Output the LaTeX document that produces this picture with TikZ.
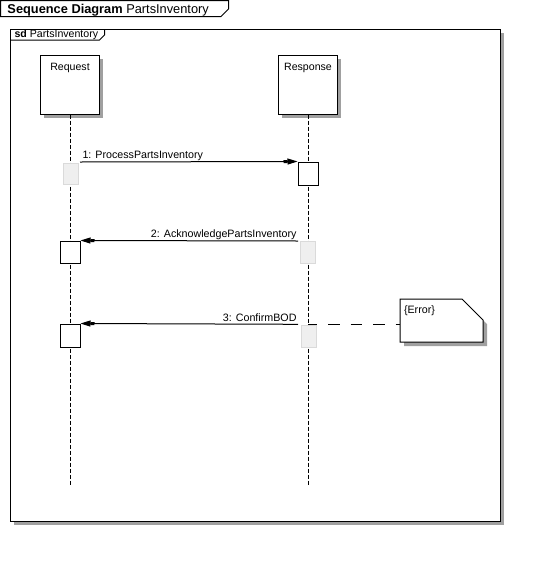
\documentclass[tikz,border=0pt]{standalone}
\usepackage{fontspec}
\setmainfont{Liberation Sans}
\usetikzlibrary{arrows.meta}
\definecolor{shadowgray}{HTML}{A0A0A0}
\definecolor{ghostfill}{HTML}{EFEFEF}
\definecolor{ghostline}{HTML}{DADADA}
\begin{document}
\begin{tikzpicture}[x=1pt,y=-1pt,
  line width=1pt,
  shade/.style={fill=shadowgray, draw=none},
  head/.style={draw=black, fill=white, minimum width=59pt, minimum height=59pt, inner sep=0pt},
  headtext/.style={font=\fontsize{10.6}{12}\selectfont, anchor=base, inner sep=0pt},
  act/.style={draw=black, fill=white, minimum width=20pt, inner sep=0pt},
  ghost/.style={draw=ghostline, fill=ghostfill, minimum width=15pt, inner sep=0pt},
  lifeline/.style={draw=black, dash pattern=on 4pt off 2pt},
  msg/.style={draw=black, -{Rectangle[length=4pt,width=3pt,sep=0pt]Triangle[length=10pt,width=6pt]}},
  msglabel/.style={font=\fontsize{10.7}{12}\selectfont, inner sep=0pt},
  notelink/.style={draw=black, dash pattern=on 11.5pt off 11pt, dash phase=2.5pt},
]
\useasboundingbox (0,0) rectangle (541,574);

% diagram title tab
\draw[fill=white] (0.5,0.5) -- (228.5,0.5) -- (228.5,9) -- (221,16.5) -- (0.5,16.5) -- cycle;
\node[anchor=base west, inner sep=0pt, font=\fontsize{12.8}{14}\selectfont] (title) at (7,13)
  {\textbf{Sequence Diagram} PartsInventory};

% frame with shadow
\fill[shade] (14,33) rectangle (504,524.5);
\draw[fill=white] (10.5,29.5) rectangle (500.5,521);
\draw (10.5,40) -- (99.5,40) -- (104.5,35) -- (104.5,29.5);
\node[anchor=base west, inner sep=0pt, font=\fontsize{10.6}{12}\selectfont] (sdlabel) at (14,37.5)
  {\textbf{sd} PartsInventory};

% lifeline heads
\fill[shade] (44,59) rectangle (103,118);
\fill[shade] (282,59) rectangle (341,118);
\node[head] (req) at (70,84.5) {};
\node[head] (rsp) at (308,84.5) {};
\node[headtext] (reqt) at (70,70) {Request};
\node[headtext] (rspt) at (308,70) {Response};

% lifelines
\coordinate (reqend) at (70,485);
\coordinate (rspend) at (308,485);
\draw[lifeline] (req.south) -- (reqend);
\draw[lifeline] (rsp.south) -- (rspend);

% activations
\node[ghost, minimum height=21pt] (reqG1) at (70.5,173.5) {};
\node[act, minimum height=23pt] (rspA1) at (308,173.5) {};
\node[act, minimum height=22pt] (reqA2) at (70,252) {};
\node[ghost, minimum height=22pt] (rspG2) at (308.2,252) {};
\node[act, minimum height=23pt] (reqA3) at (70,335.5) {};
\node[ghost, minimum height=22pt] (rspG3) at (308.5,336) {};

% message endpoints
\coordinate (m1s) at (80,162);
\coordinate (m2s) at (298,241);
\coordinate (m3s) at (298,324.3);

\draw[msg] (m1s) -- (rspA1.north west);
\node[msglabel, anchor=base west] (l1) at (82,158) {1: ProcessPartsInventory};
\draw[msg] (m2s) -- (reqA2.north east);
\node[msglabel, anchor=base east] (l2) at (297,237.3) {2: AcknowledgePartsInventory};
\draw[msg] (m3s) -- (reqA3.north east);
\node[msglabel, anchor=base east] (l3) at (297,321.5) {3: ConfirmBOD};

% note
\fill[shade] (404,303) -- (466,303) -- (487,324) -- (487,346) -- (404,346) -- cycle;
\draw[fill=white] (400,299) -- (462,299) -- (483,320) -- (483,342) -- (400,342) -- cycle;
\node[msglabel, anchor=base west] (note) at (403.5,313) {\{Error\}};
\coordinate (nls) at (308,324.5);
\coordinate (nle) at (400,324.5);
\draw[notelink] (nls) -- (nle);
\end{tikzpicture}
\end{document}
